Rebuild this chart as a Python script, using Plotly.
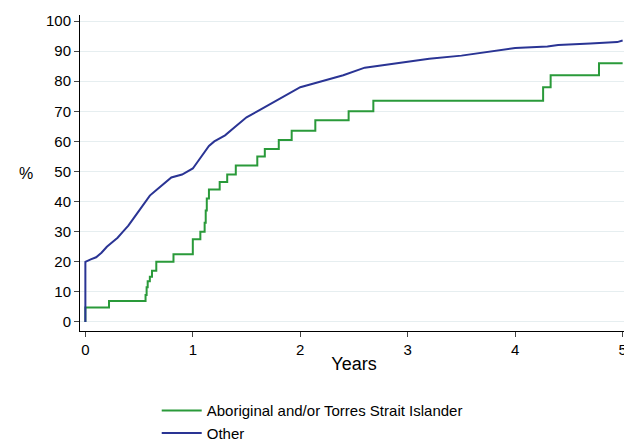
import plotly.graph_objects as go

# Aboriginal and/or Torres Strait Islander (step curve)
atsi_years = [0, 0, 0.22, 0.56, 0.57, 0.58, 0.60, 0.62, 0.66, 0.82, 1.00, 1.07, 1.11, 1.12, 1.13, 1.15,
              1.25, 1.32, 1.40, 1.60, 1.67, 1.80, 1.92, 2.14, 2.45, 2.68, 4.26, 4.33, 4.78, 5.0]
atsi_pct = [0, 4.8, 7.0, 9.0, 11.5, 13.5, 15.0, 17.0, 20.0, 22.5, 27.5, 30.0, 33.0, 37.0, 41.0, 44.0,
            46.5, 49.0, 52.0, 55.0, 57.5, 60.5, 63.5, 67.0, 70.0, 73.5, 78.0, 82.0, 86.0, 86.0]

# Other
other_years = [0, 0, 0.05, 0.1, 0.15, 0.2, 0.25, 0.3, 0.35, 0.4, 0.45, 0.5, 0.55, 0.6, 0.65, 0.7, 0.75,
               0.8, 0.9, 1.0, 1.05, 1.1, 1.15, 1.2, 1.3, 1.4, 1.5, 1.6, 1.7, 1.8, 1.9, 2.0, 2.1, 2.2,
               2.4, 2.6, 2.8, 3.0, 3.2, 3.5, 3.8, 4.0, 4.3, 4.4, 4.7, 4.95, 5.0]
other_pct = [0, 20.0, 20.8, 21.5, 23.0, 25.0, 26.5, 28.0, 30.0, 32.0, 34.5, 37.0, 39.5, 42.0, 43.5, 45.0,
             46.5, 48.0, 49.0, 51.0, 53.5, 56.0, 58.5, 60.0, 62.0, 65.0, 68.0, 70.0, 72.0, 74.0, 76.0, 78.0,
             79.0, 80.0, 82.0, 84.5, 85.5, 86.5, 87.5, 88.5, 90.0, 91.0, 91.5, 92.0, 92.5, 93.0, 93.5]

fig = go.Figure()
fig.add_trace(go.Scatter(x=atsi_years, y=atsi_pct, mode="lines", line=dict(color="#2a9a3a", width=2, shape="hv"),
                         name="Aboriginal and/or Torres Strait Islander"))
fig.add_trace(go.Scatter(x=other_years, y=other_pct, mode="lines", line=dict(color="#2a3494", width=2),
                         name="Other"))

fig.update_layout(
    width=632, height=448, paper_bgcolor="white", plot_bgcolor="white",
    font=dict(family="Liberation Sans, Arial", size=15, color="black"),
    margin=dict(l=72, r=12, t=7, b=115),
    showlegend=True,
    legend=dict(orientation="v", x=0.14, y=-0.2, xanchor="left", yanchor="top", font=dict(size=15),
                tracegroupgap=0, itemwidth=40),
    xaxis=dict(range=[-0.05, 5.05], tickvals=[0, 1, 2, 3, 4, 5], ticks="outside", ticklen=5,
               showline=True, linecolor="black", showgrid=False, zeroline=False, automargin=False,
               title=dict(text="Years", standoff=0)),
    yaxis=dict(range=[-3, 102], tickvals=list(range(0, 101, 10)), ticks="outside", ticklen=5,
               showline=True, linecolor="black", gridcolor="#e6eef0", zeroline=False, automargin=False,
               title=None),
    annotations=[dict(text="%", x=-0.115, y=0.5, xref="paper", yref="paper", showarrow=False, font=dict(size=16))],
)

fig.write_html("out.html")
